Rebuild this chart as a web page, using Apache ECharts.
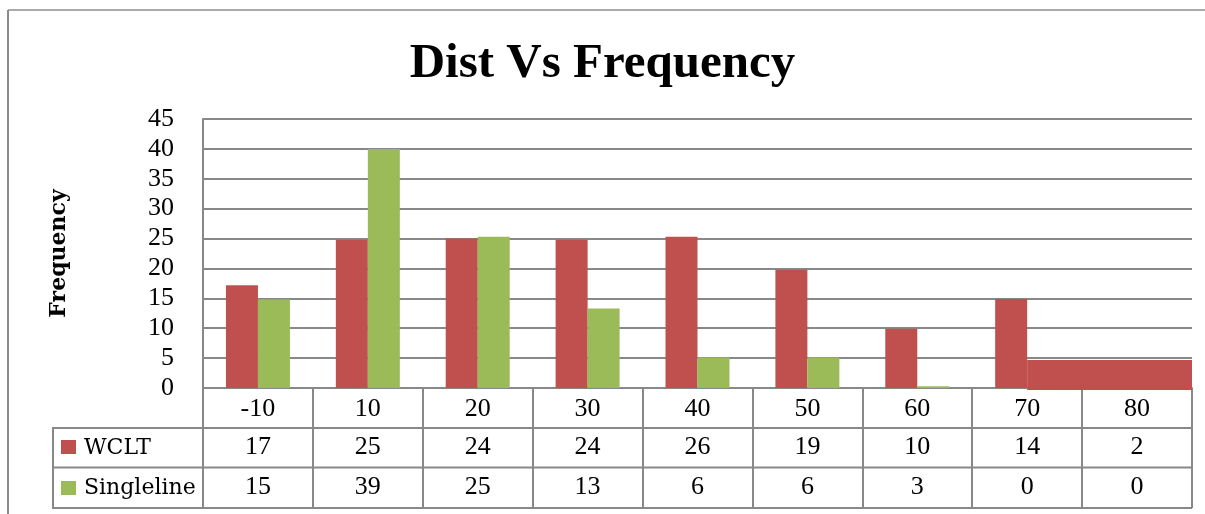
<!DOCTYPE html>
<html>
<head>
<meta charset="utf-8">
<script src="https://cdn.jsdelivr.net/npm/echarts@6/dist/echarts.min.js"></script>
<style>
html,body{margin:0;padding:0;background:#fff;}
#c{width:1205px;height:514px;}
</style>
</head>
<body>
<div id="c"></div>
<script>
// ---- data ----
var categories = ['-10', '10', '20', '30', '40', '50', '60', '70', '80'];
// bar heights as drawn in the picture
var wcltBars = [17.2, 24.8, 25, 24.8, 25.3, 19.8, 9.9, 14.9, null];
var singleBars = [14.8, 40, 25.3, 13.3, 5.1, 5.1, 0.3, null, null];
// low red block drawn from the 70 category to the end of the axis
var shelf = [[7, 4.7]];
// values printed in the data table
var wcltTable = [17, 25, 24, 24, 26, 19, 10, 14, 2];
var singleTable = [15, 39, 25, 13, 6, 6, 3, 0, 0];
var seriesNames = ['WCLT', 'Singleline'];
var yTicks = [0, 45, 5]; // min, max, interval

var RED = '#C0504D', GREEN = '#9BBB59', GRID = '#888888';
var NUMFONT = 'Liberation Serif';
var WORDFONT = 'DejaVu Serif';

var chart = echarts.init(document.getElementById('c'));

function tableAxis(values, offset) {
  return {
    type: 'category', data: categories, position: 'bottom', offset: offset,
    axisLine: {show: false}, axisTick: {show: false}, splitLine: {show: false},
    axisLabel: {
      interval: 0, margin: 8, color: '#000', fontFamily: NUMFONT, fontSize: 26,
      formatter: function (v, i) { return String(values[i]); }
    }
  };
}

var option = {
  animation: false,
  backgroundColor: '#fff',
  title: {
    text: 'Dist Vs Frequency', left: 'center', top: 35,
    textStyle: {fontFamily: 'Liberation Serif', fontWeight: 'bold', fontSize: 49, color: '#000'}
  },
  grid: {left: 203, right: 13, top: 119, bottom: 126, containLabel: false},
  xAxis: [
    {
      type: 'category', data: categories, position: 'bottom',
      axisLine: {show: true, lineStyle: {color: GRID, width: 2}},
      axisTick: {show: true, interval: 0, length: 120, lineStyle: {color: GRID, width: 2}},
      axisLabel: {interval: 0, margin: 8, color: '#000', fontFamily: NUMFONT, fontSize: 26},
      splitLine: {show: false}
    },
    tableAxis(wcltTable, 38.5),
    tableAxis(singleTable, 78)
  ],
  yAxis: {
    type: 'value', min: yTicks[0], max: yTicks[1], interval: yTicks[2],
    name: 'Frequency', nameLocation: 'middle', nameRotate: 90, nameGap: 133,
    nameTextStyle: {fontFamily: WORDFONT, fontWeight: 'bold', fontSize: 22, color: '#000'},
    axisLine: {show: true, lineStyle: {color: GRID, width: 2}},
    axisTick: {show: false},
    axisLabel: {margin: 29, color: '#000', fontFamily: NUMFONT, fontSize: 26},
    splitLine: {show: true, lineStyle: {color: GRID, width: 2}}
  },
  series: [
    {name: seriesNames[0], type: 'bar', data: wcltBars, barWidth: 32, barGap: '0%',
     itemStyle: {color: RED}, z: 3},
    {name: seriesNames[1], type: 'bar', data: singleBars, barWidth: 32, barGap: '0%',
     itemStyle: {color: GREEN}, z: 3},
    {name: 'shelf', type: 'custom', data: shelf, z: 4,
     encode: {x: 0, y: 1},
     renderItem: function (params, api) {
       var top = api.coord([api.value(0), api.value(1)]);
       var base = api.coord([api.value(0), 0]);
       var cw = api.size([1, 0])[0];
       return {
         type: 'rect',
         shape: {x: top[0], y: top[1], width: cw * 1.5, height: base[1] - top[1] + 2},
         style: {fill: RED}
       };
     }}
  ],
  graphic: []
};
chart.setOption(option);

// table frame & legend keys (layout elements)
var g = [];
var lineStyle = {stroke: GRID, lineWidth: 2};
var xL = 53, xR = chart.convertToPixel({xAxisIndex: 0}, categories[categories.length - 1]) + 55;
[428, 467.5, 508].forEach(function (y) {
  g.push({type: 'line', shape: {x1: xL, y1: y, x2: xR, y2: y}, style: lineStyle, z: 10});
});
g.push({type: 'line', shape: {x1: xL, y1: 427, x2: xL, y2: 509}, style: lineStyle, z: 10});
// legend keys
g.push({type: 'rect', shape: {x: 61, y: 440, width: 15, height: 14}, style: {fill: RED}, z: 10});
g.push({type: 'text', x: 84, y: 448, style: {text: seriesNames[0], font: '22px "DejaVu Serif"', fill: '#000', textVerticalAlign: 'middle'}, z: 10});
g.push({type: 'rect', shape: {x: 61, y: 481, width: 15, height: 14}, style: {fill: GREEN}, z: 10});
g.push({type: 'text', x: 84, y: 488, style: {text: seriesNames[1], font: '22px "DejaVu Serif"', fill: '#000', textVerticalAlign: 'middle'}, z: 10});
// chart frame
g.push({type: 'line', shape: {x1: 8, y1: 10, x2: 1205, y2: 10}, style: {stroke: '#aaaaaa', lineWidth: 2}, z: 10});
g.push({type: 'line', shape: {x1: 8, y1: 10, x2: 8, y2: 514}, style: {stroke: '#8c8c8c', lineWidth: 2}, z: 10});
chart.setOption({graphic: g});
</script>
</body>
</html>
